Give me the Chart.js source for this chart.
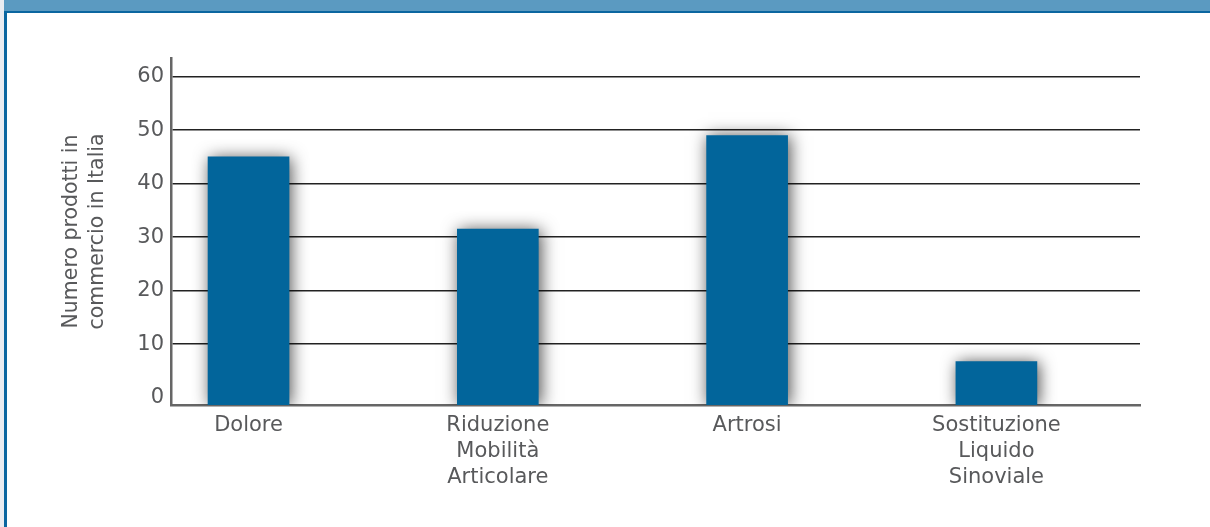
<!DOCTYPE html>
<html>
<head>
<meta charset="utf-8">
<script src="https://cdn.jsdelivr.net/npm/chart.js@4"></script>
<style>
  body { margin: 0; background: #eaecf1; }
  .frame { position: absolute; left: 4px; top: 0; width: 1206px; height: 527px; background: #fff; border-left: 3px solid #0b66a0; box-sizing: border-box; }
  .header { position: absolute; left: 4px; top: 0; width: 1206px; height: 11px; background: #5b9ac1; border-bottom: 2px solid #0b66a0; }
  #wrap { position: absolute; left: 0; top: 0; width: 1210px; height: 527px; }
</style>
</head>
<body>
<div class="frame"></div>
<div class="header"></div>
<div id="wrap"><canvas id="myChart" width="1210" height="527"></canvas></div>
<script>
const categories = [
  ["Dolore"],
  ["Riduzione", "Mobilità", "Articolare"],
  ["Artrosi"],
  ["Sostituzione", "Liquido", "Sinoviale"],
];
const products = [45, 31.5, 49, 6.7];
const yTicks = [0, 10, 20, 30, 40, 50, 60];
const yTitle = ["Numero prodotti in", "commercio in Italia"];

const FONT = "'DejaVu Sans', sans-serif";

const barShadow = {
  id: "barShadow",
  beforeDatasetsDraw(chart) {
    const ctx = chart.ctx;
    ctx.save();
    ctx.shadowColor = "rgba(0,0,0,0.7)";
    ctx.shadowBlur = 16;
    ctx.shadowOffsetX = 2;
    ctx.shadowOffsetY = 1;
  },
  afterDatasetsDraw(chart) {
    chart.ctx.restore();
  },
};

var ctx = document.getElementById("myChart").getContext("2d");
var chart = new Chart(ctx, {
  type: "bar",
  data: {
    datasets: [
      {
        data: products.map((v, i) => ({ x: i, y: v })),
        backgroundColor: "#02659b",
        barThickness: 81,
        base: -1.4,
      },
    ],
  },
  plugins: [barShadow],
  options: {
    responsive: false,
    animation: false,
    layout: { padding: { left: 58, top: 58, right: 70, bottom: 0 } },
    plugins: { legend: { display: false }, tooltip: { enabled: false } },
    scales: {
      x: {
        type: "linear",
        offset: false,
        min: -0.311,
        max: 3.576,
        afterBuildTicks: (scale) => {
          scale.ticks = categories.map((c, i) => ({ value: i }));
        },
        afterFit: (scale) => {
          scale.height = 122;
        },
        grid: { display: false, drawTicks: false },
        border: { display: true, color: "#666", width: 2.5 },
        ticks: {
          autoSkip: false,
          maxRotation: 0,
          padding: 7,
          color: "#58595b",
          font: { family: FONT, size: 21, lineHeight: 1.25 },
          callback: (value) => categories[value],
        },
      },
      y: {
        min: -1.4,
        max: 63.5,
        afterBuildTicks: (scale) => {
          scale.ticks = yTicks.map((v) => ({ value: v }));
        },
        afterFit: (scale) => {
          scale.width = 171 - 58;
        },
        grid: {
          drawTicks: false,
          color: (c) => (c.tick && c.tick.value === 0 ? "rgba(0,0,0,0)" : "#222"),
          lineWidth: 1.6,
        },
        border: { display: true, color: "#666", width: 2.5 },
        ticks: {
          padding: 7,
          color: "#58595b",
          font: { family: FONT, size: 21 },
        },
        title: {
          display: true,
          text: yTitle,
          color: "#58595b",
          padding: 0,
          font: { family: FONT, size: 20.5, lineHeight: 1.3 },
        },
      },
    },
  },
});
</script>
</body>
</html>
